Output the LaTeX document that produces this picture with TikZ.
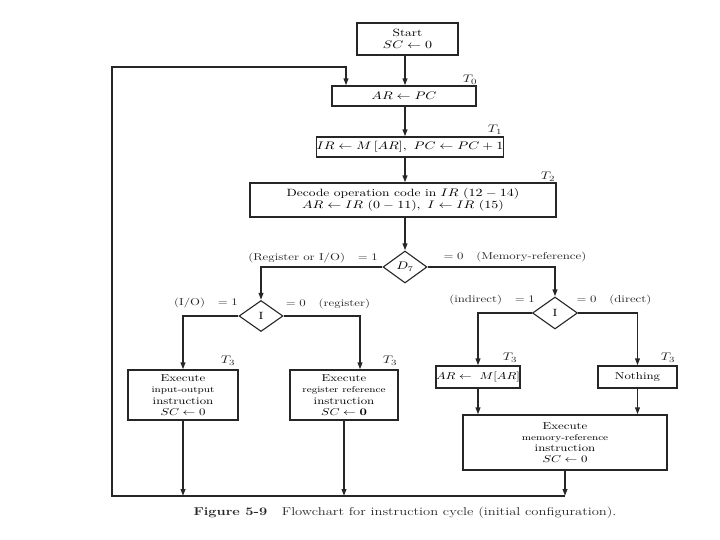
\documentclass[tikz,border=0pt]{standalone}
\usepackage{graphicx}
\usetikzlibrary{shapes.geometric,arrows.meta}
\newcommand\wx[1]{\scalebox{1.28}[1]{#1}}
\begin{document}
\begin{tikzpicture}[x=1pt,y=-1pt,
  box/.style={draw=black!85, line width=1.1pt, rectangle, inner sep=0pt, align=center,
    font=\fontsize{10.5}{12.5}\selectfont},
  sbox/.style={box, font=\fontsize{10}{11.2}\selectfont},
  dia/.style={draw=black!85, line width=1.1pt, diamond, inner sep=0pt,
    minimum width=44pt, minimum height=32pt, font=\fontsize{10.5}{12}\selectfont},
  arr/.style={draw=black!85, line width=1.7pt, -{Triangle[length=7pt,width=4.6pt]}},
  lbl/.style={inner sep=0pt, font=\fontsize{10}{12}\selectfont, text=black!85},
  tl/.style={inner sep=0pt, font=\fontsize{11}{12}\selectfont, text=black!85}
]
\useasboundingbox[fill=white] (0,0) rectangle (720,540);

% boxes
\node[box, minimum width=101pt, minimum height=32pt] (start) at (407.5,39)
  {\wx{Start}\\\wx{$SC\leftarrow 0$}};
\node[box, minimum width=144pt, minimum height=20pt] (ar) at (404,96)
  {\wx{$AR\leftarrow PC$}};
\node[box, minimum width=187pt, minimum height=20pt] (ir) at (410,147)
  {\wx{$IR\leftarrow M\,[AR],\ PC\leftarrow PC+1$}};
\node[box, minimum width=306pt, minimum height=34pt] (dec) at (403,200)
  {\wx{Decode operation code in $IR$ $(12-14)$}\\\wx{$AR\leftarrow IR\ (0-11),\ I\leftarrow IR\ (15)$}};
\node[dia] (d7) at (405,267) {\wx{$D_7$}};
\node[dia, minimum width=44pt, minimum height=31pt] (i1) at (261,316) {\wx{I}};
\node[dia, minimum width=45pt, minimum height=32pt] (i2) at (555,313) {\wx{I}};
\node[sbox, minimum width=110pt, minimum height=50pt] (io) at (183,395)
  {\wx{Execute}\\\wx{\fontsize{8.5}{11.2}\selectfont input-output}\\\wx{instruction}\\\wx{$SC\leftarrow 0$}};
\node[sbox, minimum width=108pt, minimum height=50pt] (reg) at (344,395)
  {\wx{Execute}\\\wx{\fontsize{8.5}{11.2}\selectfont register reference}\\\wx{instruction}\\\wx{$SC\leftarrow \mathbf{0}$}};
\node[sbox, minimum width=84pt, minimum height=22pt] (arm) at (478,377)
  {\wx{$AR\leftarrow\ M[AR]$}};
\node[sbox, minimum width=79pt, minimum height=22pt] (noth) at (637.5,377)
  {\wx{Nothing}};
\node[sbox, minimum width=204pt, minimum height=55pt] (mem) at (565,442.5)
  {\wx{Execute}\\\wx{\fontsize{8.5}{11.2}\selectfont memory-reference}\\\wx{instruction}\\\wx{$SC\leftarrow 0$}};

% timing labels
\node[tl] (t0) at (470,80) {\wx{$T_0$}};
\node[tl] (t1) at (495,130) {\wx{$T_1$}};
\node[tl] (t2) at (548,177) {\wx{$T_2$}};
\node[tl] (t3a) at (228,361) {\wx{$T_3$}};
\node[tl] (t3b) at (390,361) {\wx{$T_3$}};
\node[tl] (t3c) at (510,358) {\wx{$T_3$}};
\node[tl] (t3d) at (668,358) {\wx{$T_3$}};

% branch labels
\node[lbl] (l1) at (313,258) {\wx{(Register or I/O)\quad$=1$}};
\node[lbl] (l2) at (515,257) {\wx{$=0$\quad(Memory-reference)}};
\node[lbl] (l3) at (206,303) {\wx{(I/O)\quad$=1$}};
\node[lbl] (l4) at (328,304) {\wx{$=0$\quad(register)}};
\node[lbl] (l5) at (492,300) {\wx{(indirect)\quad$=1$}};
\node[lbl] (l6) at (614,300) {\wx{$=0$\quad(direct)}};

% caption
\node[inner sep=0pt, font=\fontsize{11.4}{13}\selectfont, text=black!85] (cap) at (405,513)
  {\wx{\textbf{Figure 5-9}\quad Flowchart for instruction cycle (initial configuration).}};

% connectors
\coordinate (col) at (405,0);
\coordinate (bl) at (112,496);
\coordinate (tlc) at (112,67);
\draw[arr] (start.south -| col) -- (ar.north -| col);
\draw[arr] (ar.south -| col) -- (ir.north -| col);
\draw[arr] (ir.south -| col) -- (dec.north -| col);
\draw[arr] (dec.south -| col) -- (d7.north);
\draw[arr] (d7.west) -| (i1.north);
\draw[arr] (d7.east) -| (i2.north);
\draw[arr] (i1.west) -| (io.north);
\draw[arr] (i1.east) -| ([xshift=16pt]reg.north);
\draw[arr] (i2.west) -| (arm.north);
\draw[arr] (i2.east) -| (noth.north);
\draw[arr] (arm.south) -- (arm.south |- mem.north);
\draw[arr] (noth.south) -- (noth.south |- mem.north);
\draw[arr] (io.south) -- (io.south |- bl);
\draw[arr] (reg.south) -- (reg.south |- bl);
\draw[arr] (mem.south) -- (mem.south |- bl);
\draw[arr] (mem.south |- bl) -- (bl) -- (tlc) -| ([xshift=-58pt]ar.north);
\end{tikzpicture}
\end{document}
